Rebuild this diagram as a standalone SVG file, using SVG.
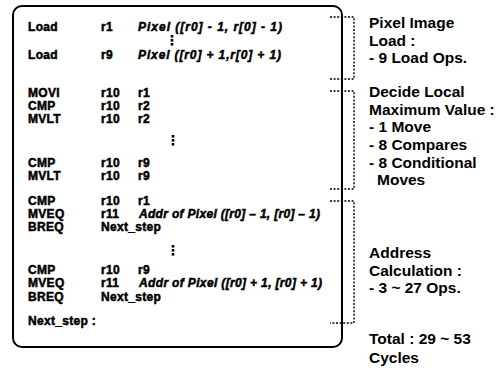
<svg xmlns="http://www.w3.org/2000/svg" width="500" height="370" viewBox="0 0 500 370">
<style>
.c{font-family:"Liberation Sans",Arial,sans-serif;font-weight:bold;font-size:12px;letter-spacing:0.3px;fill:#000;stroke:#000;stroke-width:0.5}
.i{font-family:"Liberation Sans",Arial,sans-serif;font-weight:bold;font-style:italic;font-size:12px;fill:#000;stroke:#000;stroke-width:0.5}
.l{font-family:"Liberation Sans",Arial,sans-serif;font-weight:bold;font-size:15.5px;fill:#000}
.br{fill:none;stroke:#000;stroke-width:1.4;stroke-dasharray:2 1.6}
.box{fill:#fff;stroke:#000;stroke-width:2}
</style>
<defs>
<g id="vdots"><rect x="-1.3" y="0" width="2.6" height="2.6"/><rect x="-1.3" y="4" width="2.6" height="2.6"/><rect x="-1.3" y="8" width="2.6" height="2.6"/></g>
</defs>
<rect width="500" height="370" fill="#fff"/>
<g id="code-box">
<rect class="box" x="13" y="6" width="329" height="341" rx="9"/>
<g id="load-block">
<text class="c" x="28" y="31">Load</text><text class="c" x="101" y="31">r1</text><text class="i" x="138" y="31" textLength="144">Pixel ([r0] - 1, r[0] - 1)</text>
<use href="#vdots" x="172" y="35"/>
<text class="c" x="28" y="59">Load</text><text class="c" x="101" y="59">r9</text><text class="i" x="138" y="59" textLength="143">Pixel ([r0] + 1,r[0] + 1)</text>
</g>
<g id="max-block">
<text class="c" x="28" y="97">MOVI</text><text class="c" x="101" y="97">r10</text><text class="c" x="138" y="97">r1</text>
<text class="c" x="28" y="110">CMP</text><text class="c" x="101" y="110">r10</text><text class="c" x="138" y="110">r2</text>
<text class="c" x="28" y="123">MVLT</text><text class="c" x="101" y="123">r10</text><text class="c" x="138" y="123">r2</text>
<use href="#vdots" x="173" y="135"/>
<text class="c" x="28" y="167">CMP</text><text class="c" x="101" y="167">r10</text><text class="c" x="138" y="167">r9</text>
<text class="c" x="28" y="180">MVLT</text><text class="c" x="101" y="180">r10</text><text class="c" x="138" y="180">r9</text>
</g>
<g id="addr-block">
<text class="c" x="28" y="205">CMP</text><text class="c" x="101" y="205">r10</text><text class="c" x="138" y="205">r1</text>
<text class="c" x="28" y="218">MVEQ</text><text class="c" x="101" y="218">r11</text><text class="i" x="139" y="218" textLength="181">Addr of Pixel ([r0] – 1, [r0] – 1)</text>
<text class="c" x="28" y="231">BREQ</text><text class="c" x="101" y="231">Next_step</text>
<use href="#vdots" x="173" y="245"/>
<text class="c" x="28" y="274">CMP</text><text class="c" x="101" y="274">r10</text><text class="c" x="138" y="274">r9</text>
<text class="c" x="28" y="287">MVEQ</text><text class="c" x="101" y="287">r11</text><text class="i" x="139" y="287" textLength="183">Addr of Pixel ([r0] + 1, [r0] + 1)</text>
<text class="c" x="28" y="301">BREQ</text><text class="c" x="101" y="301">Next_step</text>
<text class="c" x="28" y="325">Next_step :</text>
</g>
</g>
<g id="connectors">
<path class="br" d="M330,17 H354 V79 H330"/>
<path class="br" d="M330,91 H354 V189 H330"/>
<path class="br" d="M330,201 H354 V323 H330"/>
</g>
<g id="label-load">
<text class="l" x="369" y="28">Pixel Image</text>
<text class="l" x="369" y="46">Load :</text>
<text class="l" x="369" y="63">- 9 Load Ops.</text>
</g>
<g id="label-max">
<text class="l" x="369" y="97">Decide Local</text>
<text class="l" x="369" y="115">Maximum Value :</text>
<text class="l" x="369" y="132">- 1 Move</text>
<text class="l" x="369" y="150">- 8 Compares</text>
<text class="l" x="369" y="168">- 8 Conditional</text>
<text class="l" x="377" y="185">Moves</text>
</g>
<g id="label-addr">
<text class="l" x="369" y="258">Address</text>
<text class="l" x="369" y="276">Calculation :</text>
<text class="l" x="369" y="293">- 3 ~ 27 Ops.</text>
</g>
<g id="label-total">
<text class="l" x="369" y="344">Total : 29 ~ 53</text>
<text class="l" x="369" y="363">Cycles</text>
</g>
</svg>
